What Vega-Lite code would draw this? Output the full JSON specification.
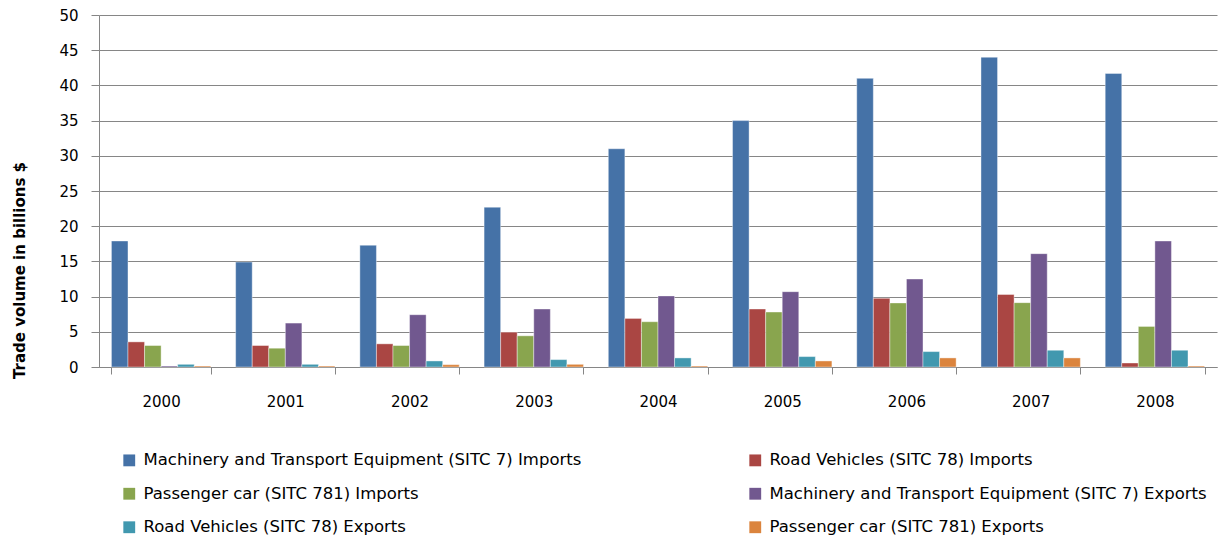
{
  "$schema": "https://vega.github.io/schema/vega-lite/v6.json",
  "width": 1118,
  "height": 352,
  "autosize": "none",
  "padding": {"left": 99, "top": 15, "right": 5, "bottom": 171},
  "background": "white",
  "config": {"font": "DejaVu Sans", "view": {"stroke": null}},
  "data": {
    "values": [
      {"year": "2000", "series": "Machinery and Transport Equipment (SITC 7) Imports", "value": 17.9},
      {"year": "2000", "series": "Road Vehicles (SITC 78) Imports", "value": 3.57},
      {"year": "2000", "series": "Passenger car (SITC 781) Imports", "value": 3.05},
      {"year": "2000", "series": "Machinery and Transport Equipment (SITC 7) Exports", "value": 0.14},
      {"year": "2000", "series": "Road Vehicles (SITC 78) Exports", "value": 0.38},
      {"year": "2000", "series": "Passenger car (SITC 781) Exports", "value": 0.14},
      {"year": "2001", "series": "Machinery and Transport Equipment (SITC 7) Imports", "value": 14.9},
      {"year": "2001", "series": "Road Vehicles (SITC 78) Imports", "value": 3.05},
      {"year": "2001", "series": "Passenger car (SITC 781) Imports", "value": 2.67},
      {"year": "2001", "series": "Machinery and Transport Equipment (SITC 7) Exports", "value": 6.24},
      {"year": "2001", "series": "Road Vehicles (SITC 78) Exports", "value": 0.38},
      {"year": "2001", "series": "Passenger car (SITC 781) Exports", "value": 0.14},
      {"year": "2002", "series": "Machinery and Transport Equipment (SITC 7) Imports", "value": 17.3},
      {"year": "2002", "series": "Road Vehicles (SITC 78) Imports", "value": 3.29},
      {"year": "2002", "series": "Passenger car (SITC 781) Imports", "value": 3.05},
      {"year": "2002", "series": "Machinery and Transport Equipment (SITC 7) Exports", "value": 7.43},
      {"year": "2002", "series": "Road Vehicles (SITC 78) Exports", "value": 0.86},
      {"year": "2002", "series": "Passenger car (SITC 781) Exports", "value": 0.33},
      {"year": "2003", "series": "Machinery and Transport Equipment (SITC 7) Imports", "value": 22.7},
      {"year": "2003", "series": "Road Vehicles (SITC 78) Imports", "value": 4.95},
      {"year": "2003", "series": "Passenger car (SITC 781) Imports", "value": 4.43},
      {"year": "2003", "series": "Machinery and Transport Equipment (SITC 7) Exports", "value": 8.24},
      {"year": "2003", "series": "Road Vehicles (SITC 78) Exports", "value": 1.05},
      {"year": "2003", "series": "Passenger car (SITC 781) Exports", "value": 0.38},
      {"year": "2004", "series": "Machinery and Transport Equipment (SITC 7) Imports", "value": 31.0},
      {"year": "2004", "series": "Road Vehicles (SITC 78) Imports", "value": 6.9},
      {"year": "2004", "series": "Passenger car (SITC 781) Imports", "value": 6.43},
      {"year": "2004", "series": "Machinery and Transport Equipment (SITC 7) Exports", "value": 10.1},
      {"year": "2004", "series": "Road Vehicles (SITC 78) Exports", "value": 1.29},
      {"year": "2004", "series": "Passenger car (SITC 781) Exports", "value": 0.14},
      {"year": "2005", "series": "Machinery and Transport Equipment (SITC 7) Imports", "value": 35.0},
      {"year": "2005", "series": "Road Vehicles (SITC 78) Imports", "value": 8.24},
      {"year": "2005", "series": "Passenger car (SITC 781) Imports", "value": 7.81},
      {"year": "2005", "series": "Machinery and Transport Equipment (SITC 7) Exports", "value": 10.7},
      {"year": "2005", "series": "Road Vehicles (SITC 78) Exports", "value": 1.48},
      {"year": "2005", "series": "Passenger car (SITC 781) Exports", "value": 0.86},
      {"year": "2006", "series": "Machinery and Transport Equipment (SITC 7) Imports", "value": 41.0},
      {"year": "2006", "series": "Road Vehicles (SITC 78) Imports", "value": 9.76},
      {"year": "2006", "series": "Passenger car (SITC 781) Imports", "value": 9.1},
      {"year": "2006", "series": "Machinery and Transport Equipment (SITC 7) Exports", "value": 12.5},
      {"year": "2006", "series": "Road Vehicles (SITC 78) Exports", "value": 2.19},
      {"year": "2006", "series": "Passenger car (SITC 781) Exports", "value": 1.29},
      {"year": "2007", "series": "Machinery and Transport Equipment (SITC 7) Imports", "value": 44.0},
      {"year": "2007", "series": "Road Vehicles (SITC 78) Imports", "value": 10.3},
      {"year": "2007", "series": "Passenger car (SITC 781) Imports", "value": 9.14},
      {"year": "2007", "series": "Machinery and Transport Equipment (SITC 7) Exports", "value": 16.1},
      {"year": "2007", "series": "Road Vehicles (SITC 78) Exports", "value": 2.38},
      {"year": "2007", "series": "Passenger car (SITC 781) Exports", "value": 1.29},
      {"year": "2008", "series": "Machinery and Transport Equipment (SITC 7) Imports", "value": 41.7},
      {"year": "2008", "series": "Road Vehicles (SITC 78) Imports", "value": 0.57},
      {"year": "2008", "series": "Passenger car (SITC 781) Imports", "value": 5.76},
      {"year": "2008", "series": "Machinery and Transport Equipment (SITC 7) Exports", "value": 17.9},
      {"year": "2008", "series": "Road Vehicles (SITC 78) Exports", "value": 2.38},
      {"year": "2008", "series": "Passenger car (SITC 781) Exports", "value": 0.14}
    ]
  },
  "mark": {"type": "bar", "stroke": "#ffffff", "strokeWidth": 0.8, "strokeOpacity": 0.5},
  "encoding": {
    "x": {
      "field": "year",
      "type": "nominal",
      "scale": {"paddingInner": 0.2, "paddingOuter": 0.1},
      "axis": {
        "title": null,
        "labelAngle": 0,
        "tickBand": "extent",
        "labelFontSize": 15,
        "labelColor": "#000000",
        "domainColor": "#868686",
        "tickColor": "#868686",
        "tickSize": 7,
        "labelPadding": 20,
        "grid": false
      }
    },
    "xOffset": {
      "field": "series",
      "type": "nominal",
      "sort": [
        "Machinery and Transport Equipment (SITC 7) Imports",
        "Road Vehicles (SITC 78) Imports",
        "Passenger car (SITC 781) Imports",
        "Machinery and Transport Equipment (SITC 7) Exports",
        "Road Vehicles (SITC 78) Exports",
        "Passenger car (SITC 781) Exports"
      ]
    },
    "y": {
      "field": "value",
      "type": "quantitative",
      "scale": {"domain": [0, 50], "nice": false},
      "axis": {
        "values": [0, 5, 10, 15, 20, 25, 30, 35, 40, 45, 50],
        "title": "Trade volume in billions $",
        "titleFontSize": 15,
        "titleFontWeight": "bold",
        "titleColor": "#000000",
        "titleX": -80,
        "titleY": 255,
        "titleAngle": 270,
        "titleAlign": "center",
        "titleBaseline": "middle",
        "labelFontSize": 15,
        "labelColor": "#000000",
        "labelPadding": 13,
        "tickSize": 8,
        "tickColor": "#868686",
        "domainColor": "#868686",
        "gridColor": "#868686",
        "gridWidth": 1
      }
    },
    "color": {
      "field": "series",
      "type": "nominal",
      "scale": {
        "domain": [
          "Machinery and Transport Equipment (SITC 7) Imports",
          "Passenger car (SITC 781) Imports",
          "Road Vehicles (SITC 78) Exports",
          "Road Vehicles (SITC 78) Imports",
          "Machinery and Transport Equipment (SITC 7) Exports",
          "Passenger car (SITC 781) Exports"
        ],
        "range": ["#4572A7", "#89A54E", "#4198AF", "#AA4643", "#71588F", "#DB843D"]
      },
      "legend": {
        "title": null,
        "orient": "none",
        "legendX": 22,
        "legendY": 437,
        "columns": 2,
        "columnPadding": 165,
        "rowPadding": 16.5,
        "symbolType": "square",
        "symbolSize": 140,
        "symbolStrokeWidth": 0,
        "labelFontSize": 16.5,
        "labelColor": "#000000",
        "labelLimit": 600,
        "labelOffset": 6
      }
    }
  }
}
